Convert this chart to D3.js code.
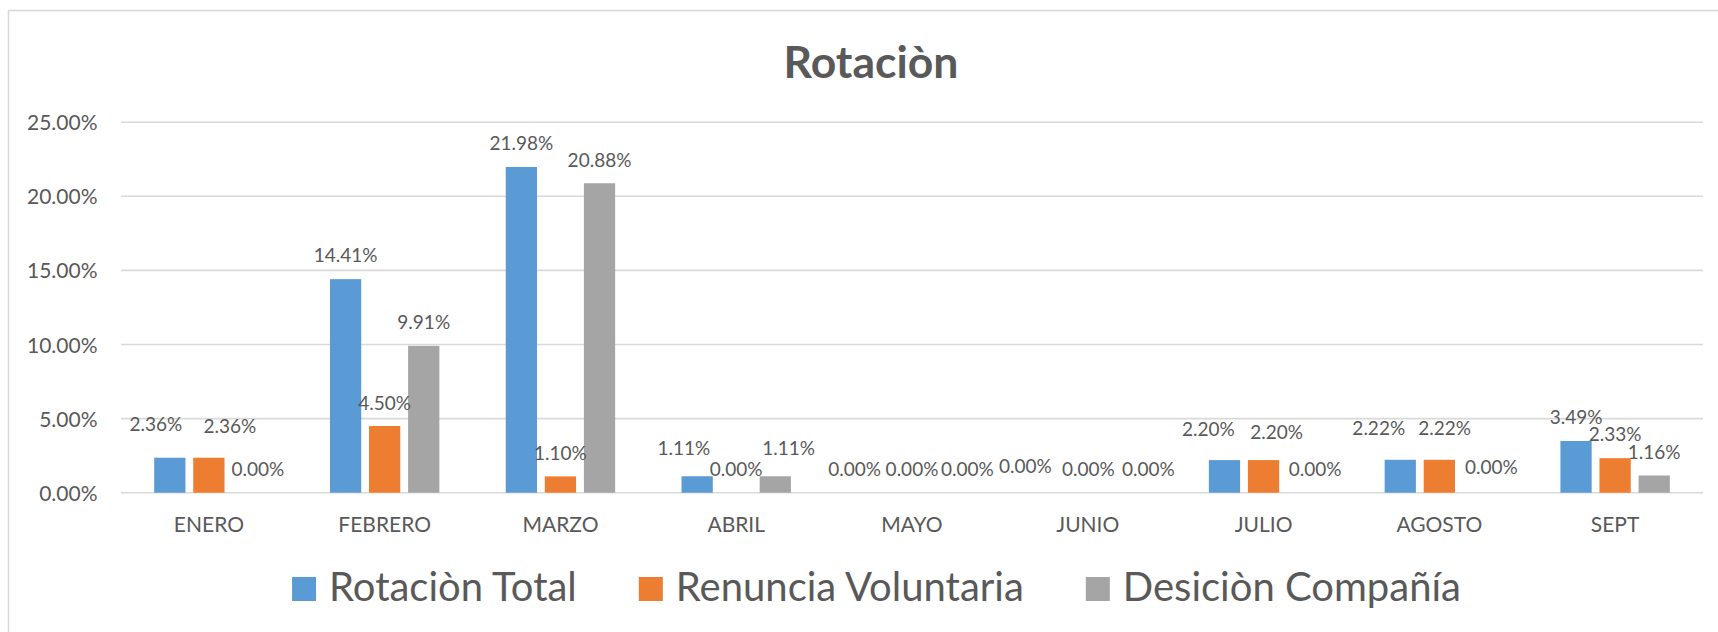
<!DOCTYPE html>
<html>
<head>
  <meta charset='utf-8'>
  <title>Rotaciòn</title>
  <script src="https://cdnjs.cloudflare.com/ajax/libs/d3/7.8.5/d3.min.js"></script>
  <style>
    html, body {
      margin: 0;
      padding: 0;
      background: #ffffff;
      font-family: 'Lato', sans-serif;
    }
    svg {
      display: block;
    }
  </style>
</head>
<body>
  <svg id="chart"></svg>
  <script>
    // data (percent)
    const months = ["ENERO", "FEBRERO", "MARZO", "ABRIL", "MAYO", "JUNIO", "JULIO", "AGOSTO", "SEPT"];
    const seriesNames = ["Rotaciòn Total", "Renuncia Voluntaria", "Desiciòn Compañía"];
    const rotacionTotal = [2.36, 14.41, 21.98, 1.11, 0.00, 0.00, 2.20, 2.22, 3.49];
    const renunciaVoluntaria = [2.36, 4.50, 1.10, 0.00, 0.00, 0.00, 2.20, 2.22, 2.33];
    const decisionCompania = [0.00, 9.91, 20.88, 1.11, 0.00, 0.00, 0.00, 0.00, 1.16];
    const yTicks = [0, 5, 10, 15, 20, 25];

    const seriesValues = [rotacionTotal, renunciaVoluntaria, decisionCompania];
    const colors = ["#5B9BD5", "#ED7D31", "#A5A5A5"];

    // hand placed labels in the original: small shifts [dx, dy] from the default spot
    const labelNudge = [
      [[-14, -10.5], [21, -8], [10, 0]],
      [[0, 0], [0, 1], [0, 0]],
      [[0, 0], [0, 0], [0, 0]],
      [[-13.3, -5], [0, 0], [13.3, -5]],
      [[-18.4, 0], [0, 0], [16.2, 0]],
      [[-23.4, -2.7], [0.5, 0], [21.6, 0]],
      [[-16.2, -7], [13, -4], [12.4, 0]],
      [[-21.5, -8], [5.3, -8], [13, -2.5]],
      [[0, 0], [0, -1], [0, 0]]
    ];

    const width = 1718;
    const height = 632;
    const textColor = "#595959";
    const gridColor = "#D9D9D9";

    const svg = d3.select("#chart")
      .attr("width", width)
      .attr("height", height);

    // chart frame (runs off the right and bottom of the picture)
    svg.append("rect")
      .attr("x", 8.5)
      .attr("y", 10.5)
      .attr("width", 1726)
      .attr("height", 640)
      .attr("fill", "#ffffff")
      .attr("stroke", gridColor)
      .attr("stroke-width", 1.5);

    const plot = { left: 121, right: 1703, top: 122.2, bottom: 492.7 };

    const x = d3.scaleBand()
      .domain(months)
      .range([plot.left, plot.right])
      .padding(0);

    const xInner = d3.scaleBand()
      .domain(d3.range(seriesNames.length))
      .range([-54.7, 54.7])
      .paddingInner(0.2)
      .paddingOuter(0);

    const y = d3.scaleLinear()
      .domain([0, 25])
      .range([plot.bottom, plot.top]);

    // title
    svg.append("text")
      .attr("x", 871)
      .attr("y", 77.5)
      .attr("text-anchor", "middle")
      .attr("fill", textColor)
      .style("font-size", "44.5px")
      .style("font-weight", "bold")
      .text("Rotaciòn");

    // gridlines
    svg.append("g")
      .selectAll("line")
      .data(yTicks)
      .join("line")
      .attr("x1", plot.left)
      .attr("x2", plot.right)
      .attr("y1", d => y(d))
      .attr("y2", d => y(d))
      .attr("stroke", gridColor)
      .attr("stroke-width", 1.6);

    // y axis labels
    const yAxis = d3.axisLeft(y)
      .tickValues(yTicks)
      .tickSize(0)
      .tickPadding(0)
      .tickFormat(d => d3.format(".2%")(d / 100));

    const yg = svg.append("g")
      .attr("transform", `translate(${plot.left - 23.5},0)`)
      .call(yAxis);
    yg.select(".domain").remove();
    yg.selectAll("text")
      .attr("fill", textColor)
      .attr("dy", "0.36em")
      .style("font-family", "Lato, sans-serif")
      .style("font-size", "21px");

    // x axis labels
    const xAxis = d3.axisBottom(x).tickSize(0).tickPadding(0);
    const xg = svg.append("g")
      .attr("transform", `translate(0,${plot.bottom})`)
      .call(xAxis);
    xg.select(".domain").remove();
    xg.selectAll("text")
      .attr("fill", textColor)
      .attr("y", 39)
      .attr("dy", 0)
      .style("font-family", "Lato, sans-serif")
      .style("font-size", "21px");

    // bars
    const cells = [];
    months.forEach((m, mi) => {
      seriesValues.forEach((vals, si) => {
        cells.push({ month: m, mi, si, value: vals[mi] });
      });
    });

    svg.append("g")
      .selectAll("rect")
      .data(cells)
      .join("rect")
      .attr("x", d => x(d.month) + x.bandwidth() / 2 + xInner(d.si))
      .attr("width", xInner.bandwidth())
      .attr("y", d => y(d.value))
      .attr("height", d => y(0) - y(d.value))
      .attr("fill", d => colors[d.si]);

    // data labels
    svg.append("g")
      .selectAll("text")
      .data(cells)
      .join("text")
      .attr("x", d => x(d.month) + x.bandwidth() / 2 + xInner(d.si) + xInner.bandwidth() / 2 + labelNudge[d.mi][d.si][0])
      .attr("y", d => y(d.value) - 23.5 + labelNudge[d.mi][d.si][1])
      .attr("dy", "0.36em")
      .attr("text-anchor", "middle")
      .attr("fill", textColor)
      .style("font-size", "19px")
      .text(d => d3.format(".2%")(d.value / 100));

    // legend
    const legend = svg.append("g");
    const sq = 24, gapText = 13, gapItem = 62, legendBaseline = 601;
    const items = legend.selectAll("g")
      .data(seriesNames)
      .join("g");
    items.append("rect")
      .attr("width", sq)
      .attr("height", sq)
      .attr("y", legendBaseline - sq)
      .attr("fill", (d, i) => colors[i]);
    items.append("text")
      .attr("x", sq + gapText)
      .attr("y", legendBaseline)
      .attr("fill", textColor)
      .style("font-size", "40px")
      .text(d => d);

    let offset = 0;
    const positions = [];
    items.each(function () {
      const w = d3.select(this).select("text").node().getComputedTextLength();
      positions.push(offset);
      offset += sq + gapText + w + gapItem;
    });
    const totalW = offset - gapItem;
    const startX = 876.5 - totalW / 2;
    items.attr("transform", (d, i) => `translate(${startX + positions[i]},0)`);
  </script>
</body>
</html>
